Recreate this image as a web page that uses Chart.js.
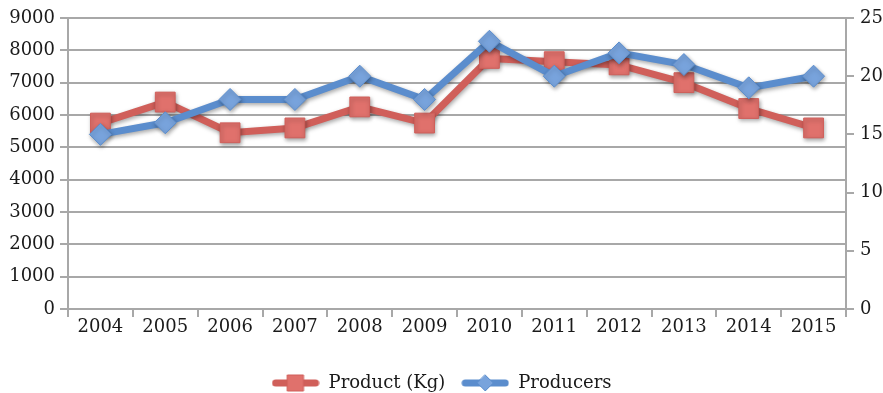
<!DOCTYPE html>
<html>
<head>
<meta charset="utf-8">
<script src="https://cdn.jsdelivr.net/npm/chart.js@4.4.1/dist/chart.umd.min.js"></script>
<style>
  html, body { margin: 0; padding: 0; background: #fff; }
  #wrap { width: 883px; height: 393px; }
</style>
</head>
<body>
<div id="wrap"><canvas id="chart"></canvas></div>
<script>
// --data-- //
const years = ['2004', '2005', '2006', '2007', '2008', '2009', '2010', '2011', '2012', '2013', '2014', '2015'];
const productKg = [5750, 6400, 5450, 5600, 6250, 5750, 7750, 7650, 7550, 7000, 6200, 5600];
const producers = [15, 16, 18, 18, 20, 18, 23, 20, 22, 21, 19, 20];
const leftTicks = [0, 1000, 2000, 3000, 4000, 5000, 6000, 7000, 8000, 9000];
const rightTicks = [0, 5, 10, 15, 20, 25];

const redLine = '#d05f5a';
const redFill = '#e0716c';
const blueLine = '#5b8dcd';
const blueFill = '#78a3dc';
const gridGray = '#a8a8a8';
const textColor = '#1a1a1a';
const fontFamily = '"DejaVu Serif", "Liberation Serif", serif';

// small canvas used as legend symbol: thick line with the marker in the middle
const legendSymbol = (line, fill, shape) => {
  const c = document.createElement('canvas');
  c.width = 48;
  c.height = 22;
  const g = c.getContext('2d');
  g.strokeStyle = line;
  g.lineWidth = 7;
  g.lineCap = 'round';
  g.beginPath();
  g.moveTo(4, 11);
  g.lineTo(44, 11);
  g.stroke();
  g.fillStyle = fill;
  g.strokeStyle = line;
  g.lineWidth = 1;
  g.beginPath();
  if (shape === 'rect') {
    g.rect(16, 3, 16, 16);
  } else {
    g.moveTo(24, 3);
    g.lineTo(32, 11);
    g.lineTo(24, 19);
    g.lineTo(16, 11);
    g.closePath();
  }
  g.fill();
  g.stroke();
  return c;
};

const shadowPlugin = {
  id: 'shadow',
  beforeDatasetsDraw(chart) {
    const ctx = chart.ctx;
    ctx.save();
    ctx.shadowColor = 'rgba(0,0,0,0.35)';
    ctx.shadowBlur = 4;
    ctx.shadowOffsetX = 1;
    ctx.shadowOffsetY = 2;
  },
  afterDatasetsDraw(chart) {
    chart.ctx.restore();
  }
};

const chart = new Chart(document.getElementById('chart'), {
  type: 'line',
  data: {
    labels: years,
    datasets: [{
      label: 'Product (Kg)',
      data: productKg,
      yAxisID: 'y',
      borderColor: redLine,
      backgroundColor: redFill,
      borderWidth: 7,
      pointStyle: 'rect',
      pointRadius: 14,
      pointBorderWidth: 1,
      pointBorderColor: redLine,
      pointBackgroundColor: redFill,
      tension: 0,
      order: 2
    }, {
      label: 'Producers',
      data: producers,
      yAxisID: 'y1',
      borderColor: blueLine,
      backgroundColor: blueFill,
      borderWidth: 7,
      pointStyle: 'rectRot',
      pointRadius: 11,
      pointBorderWidth: 1,
      pointBorderColor: blueLine,
      pointBackgroundColor: blueFill,
      tension: 0,
      order: 1
    }]
  },
  options: {
    responsive: true,
    maintainAspectRatio: false,
    animation: false,
    layout: { padding: { top: 18, bottom: -9, left: 0, right: 0 } },
    scales: {
      x: {
        offset: true,
        grid: {
          offset: true,
          drawOnChartArea: false,
          color: gridGray,
          lineWidth: 2,
          tickLength: 8
        },
        border: { color: gridGray, width: 2 },
        ticks: {
          color: textColor,
          font: { family: fontFamily, size: 18 },
          padding: 0,
          maxRotation: 0
        },
        afterFit: (s) => { s.height = 49; }
      },
      y: {
        position: 'left',
        min: 0,
        max: 9000,
        afterBuildTicks: (s) => { s.ticks = leftTicks.map(v => ({ value: v })); },
        grid: { color: gridGray, lineWidth: 2, tickLength: 8 },
        border: { color: gridGray, width: 2 },
        ticks: {
          color: textColor,
          font: { family: fontFamily, size: 18 },
          padding: 5,
          callback: (v) => String(v)
        },
        afterFit: (s) => { s.width = 68; }
      },
      y1: {
        position: 'right',
        min: 0,
        max: 25,
        afterBuildTicks: (s) => { s.ticks = rightTicks.map(v => ({ value: v })); },
        grid: { drawOnChartArea: false, color: gridGray, lineWidth: 2, tickLength: 8 },
        border: { color: gridGray, width: 2 },
        ticks: {
          color: textColor,
          font: { family: fontFamily, size: 18 },
          padding: 6,
          callback: (v) => String(v)
        },
        afterFit: (s) => { s.width = 37; }
      }
    },
    plugins: {
      tooltip: { enabled: false },
      legend: {
        position: 'bottom',
        labels: {
          usePointStyle: true,
          pointStyleWidth: 48,
          color: textColor,
          font: { family: fontFamily, size: 18 },
          padding: 16,
          generateLabels: (c) => c.data.datasets.map((ds, i) => ({
            text: ds.label,
            datasetIndex: i,
            fontColor: textColor,
            lineWidth: 0,
            pointStyle: i === 0 ? legendSymbol(redLine, redFill, 'rect') : legendSymbol(blueLine, blueFill, 'diamond')
          }))
        }
      }
    }
  },
  plugins: [shadowPlugin]
});
</script>
</body>
</html>
